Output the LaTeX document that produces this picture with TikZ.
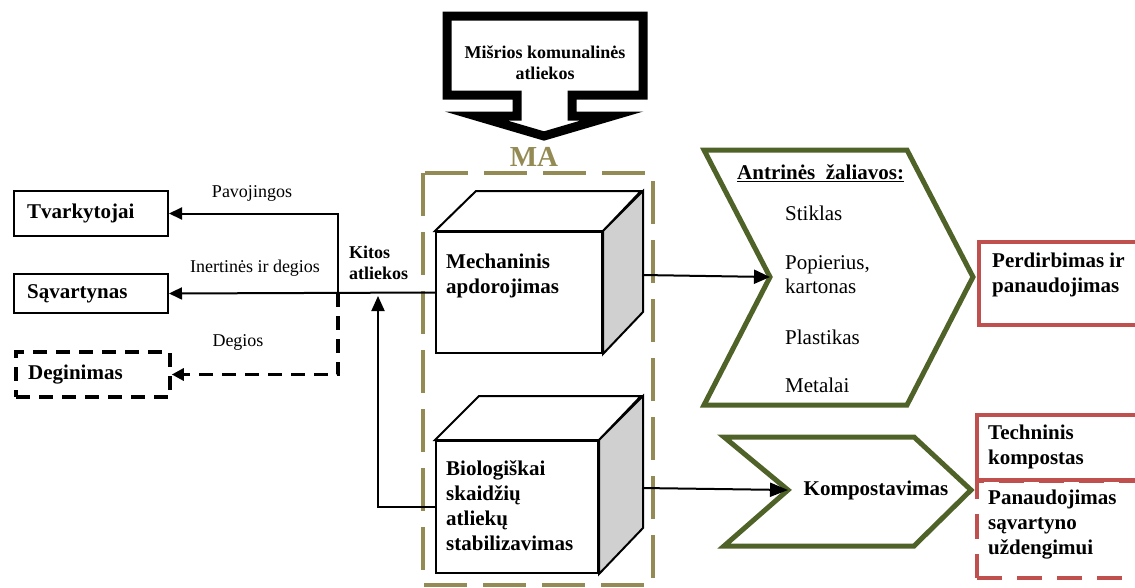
\documentclass[tikz,border=0pt]{standalone}
\usepackage{fontspec}
\setmainfont{Liberation Serif}
\usetikzlibrary{arrows.meta}
\definecolor{maolive}{HTML}{948A54}
\definecolor{chgreen}{HTML}{4F6228}
\definecolor{rbred}{HTML}{C0504D}
\definecolor{sidegray}{HTML}{D0D0D0}
\begin{document}
\begin{tikzpicture}[x=1pt,y=-1pt,
  big/.style={font=\fontsize{21}{25}\selectfont\bfseries, inner sep=0pt, align=left},
  bignorm/.style={font=\fontsize{21}{24}\selectfont, inner sep=0pt, align=left},
  lbl/.style={font=\fontsize{18}{21}\selectfont, inner sep=0pt},
  smallbold/.style={font=\fontsize{18}{21}\selectfont\bfseries, inner sep=0pt, align=left},
  blackbox/.style={draw, line width=2pt, inner sep=0pt, minimum width=154pt},
  cubeline/.style={draw, line width=2pt, line join=miter},
  cubefront/.style={cubeline, fill=white, inner sep=0pt},
  conn/.style={line width=2pt, -{Triangle[length=13pt,width=12pt]}},
  bigconn/.style={line width=2pt, -{Triangle[length=16pt,width=14pt]}},
  blackdash/.style={dash pattern=on 14pt off 9pt, line width=3.5pt},
  madash/.style={draw=maolive, line width=4.5pt, dash pattern=on 43pt off 16pt},
  chev/.style={draw=chgreen, line width=5pt, line join=miter, fill=white},
  redbox/.style={draw=rbred, line width=4pt, inner sep=0pt, anchor=north west},
  reddash/.style={redbox, dash pattern=on 25pt off 15pt},
]
\clip (0,0) rectangle (1135,587);

% ---------- callout ----------
\draw[line width=9pt, line join=miter, miter limit=10]
  (447,16) -- (643,16) -- (643,95) -- (572,95) -- (572,116) -- (612,116)
  -- (544,136) -- (476,116) -- (517,116) -- (517,95) -- (447,95) -- cycle;
\node[smallbold, align=center] (mix) at (545,62.5) {Mišrios komunalinės\\atliekos};

% ---------- MA ----------
\draw[madash] (423,173) rectangle (653,585);
\node[font=\fontsize{29}{32}\selectfont\bfseries, text=maolive, inner sep=0pt] (ma) at (534,157) {MA};

% ---------- cubes ----------
\node[cubefront, minimum width=166pt, minimum height=121pt] (mech) at (519,292.5) {};
\draw[cubeline, fill=white] (mech.north west) -- ++(41,-40) -- ++(165,0) -- (mech.north east) -- cycle;
\draw[cubeline, fill=sidegray] (mech.north east) -- ++(40,-40) -- ++(0,121) -- (mech.south east) -- cycle;
\node[big, anchor=west] (mecht) at (446,275.5) {Mechaninis\\apdorojimas};

\node[cubefront, minimum width=162pt, minimum height=132pt] (bio) at (517,507) {};
\draw[cubeline, fill=white] (bio.north west) -- ++(44,-44) -- ++(162,0) -- (bio.north east) -- cycle;
\draw[cubeline, fill=sidegray] (bio.north east) -- ++(44,-44) -- ++(0,132) -- (bio.south east) -- cycle;
\node[big, anchor=west] (biot) at (446,505.5) {Biologiškai\\skaidžių\\atliekų\\stabilizavimas};

% ---------- left boxes ----------
\node[blackbox, minimum height=45pt] (tvark) at (91,213.5) {};
\node[big, anchor=west] (tvarkt) at (27,213.5) {Tvarkytojai};
\node[blackbox, minimum height=39pt] (sav) at (91,293.5) {};
\node[big, anchor=west] (savt) at (27,293.5) {Sąvartynas};
\node[blackbox, blackdash, minimum height=45pt] (deg) at (93,374.5) {};
\node[big, anchor=west] (degt) at (28,374.5) {Deginimas};

\coordinate (j) at (338,293);
\coordinate (up) at (378,296);
\draw[conn] (mech.west) -- (sav.east);
\draw[conn] (j) |- (tvark.east);
\draw[blackdash, -{Triangle[length=12pt,width=12pt]}] (j) |- (deg.east);
\draw[conn, -{Triangle[length=15pt,width=13pt]}] (bio.west) -| (up);

\node[lbl] (pav) at (252,193) {Pavojingos};
\node[lbl] (inert) at (255,268) {Inertinės ir degios};
\node[lbl] (degl) at (238,342) {Degios};
\node[smallbold, anchor=west] (kitos) at (349,262.5) {Kitos\\atliekos};

% ---------- chevrons ----------
\draw[chev] (704,150) -- (907,150) -- (973,277) -- (907,405) -- (704,405) -- (770,277) -- cycle;
\coordinate (n1) at (770,277);
\coordinate (n2) at (788,490);
\draw[chev] (724,437) -- (914,437) -- (971,490) -- (914,546) -- (724,546) -- (788,490) -- cycle;

\coordinate (mechR) at (642,275);
\coordinate (bioR) at (642,488);
\draw[bigconn] (mechR) -- (n1);
\draw[bigconn, -{Triangle[length=18pt,width=14pt]}] (bioR) -- (n2);

\node[big, anchor=west] (antr) at (737,173) {\underline{Antrinės\ \ žaliavos:}};
\node[bignorm, anchor=west] (stik) at (785,213) {Stiklas};
\node[bignorm, anchor=west] (pop) at (785,275) {Popierius,\\kartonas};
\node[bignorm, anchor=west] (plast) at (785,337) {Plastikas};
\node[bignorm, anchor=west] (met) at (785,385) {Metalai};
\node[big] (komp) at (876,490) {Kompostavimas};

% ---------- red boxes ----------
\node[redbox, minimum width=175pt, minimum height=83pt] (perd) at (977,240) {};
\node[big, anchor=west] (perdt) at (992,275) {Perdirbimas ir\\panaudojimas};
\node[redbox, minimum width=175pt, minimum height=65pt] (tech) at (975,413) {};
\node[big, anchor=west] (techt) at (988,446.5) {Techninis\\kompostas};
\node[reddash, minimum width=175pt, minimum height=97pt] (pan) at (975,479) {};
\node[big, anchor=west] (pant) at (988,525) {Panaudojimas\\sąvartyno\\uždengimui};
\end{tikzpicture}
\end{document}
